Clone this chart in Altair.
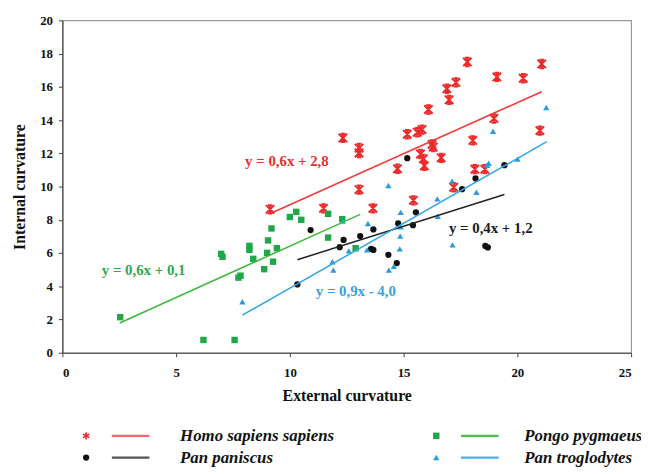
import altair as alt
import pandas as pd

# ---- data ----
homo_x = [9.13, 11.48, 12.33, 13.04, 13.04, 13.04, 13.65, 14.73, 15.16, 15.6, 15.81, 16.09, 16.25, 16.3,
          15.74, 15.87, 15.91, 16.65, 16.9, 17.0, 17.3, 17.8, 19.1, 20.26, 21.07, 18.97, 18.04, 20.99,
          18.13, 18.57, 17.2, 15.43]
homo_y = [8.63, 8.69, 12.93, 12.32, 12.02, 9.82, 8.69, 11.07, 13.15, 13.27, 13.43, 14.64, 12.54, 12.38,
          11.96, 11.67, 11.25, 11.73, 15.89, 15.22, 16.27, 17.5, 16.6, 16.52, 17.38, 14.1, 12.78, 13.37,
          11.05, 11.05, 9.96, 9.17]

pongo_x = [2.54, 6.2, 7.57, 6.98, 7.04, 7.74, 7.83, 8.22, 8.22, 8.39, 9.04, 9.19, 9.0, 8.87, 9.26, 9.43,
           10.0, 10.28, 10.5, 11.68, 11.68, 12.3, 12.89]
pongo_y = [2.14, 0.77, 0.77, 5.95, 5.77, 4.52, 4.64, 6.43, 6.19, 5.65, 6.76, 7.48, 6.01, 5.03, 5.48, 6.29,
           8.17, 8.48, 8.0, 8.36, 6.93, 8.04, 6.29]

paniscus_x = [10.33, 10.91, 12.19, 12.36, 13.09, 13.57, 13.67, 13.67, 14.33, 14.7, 14.76, 15.41, 15.54,
              15.16, 17.57, 18.16, 19.43, 18.59, 18.7]
paniscus_y = [4.11, 7.38, 6.35, 6.79, 7.02, 6.25, 6.19, 7.42, 5.89, 5.4, 7.78, 7.68, 8.45,
              11.71, 9.84, 10.49, 11.29, 6.43, 6.34]

trog_x = [7.91, 11.87, 11.91, 12.33, 12.59, 13.39, 13.43, 14.33, 14.35, 14.57, 14.87, 14.87, 14.85, 14.83,
          16.5, 16.48, 17.15, 17.13, 18.2, 18.67, 18.74, 18.93, 20.01, 21.27]
trog_y = [3.07, 5.48, 4.97, 7.92, 6.13, 6.19, 7.78, 10.06, 4.97, 5.21, 8.45, 7.58, 7.02, 6.25,
          8.21, 9.26, 6.49, 10.33, 9.66, 11.28, 11.4, 13.33, 11.65, 14.76]

species = ["Homo sapiens sapiens", "Pongo pygmaeus", "Pan paniscus", "Pan troglodytes"]
# trend line end points (as drawn)
fit_x0 = [9.29, 2.52, 10.33, 7.91]
fit_y0 = [8.47, 1.79, 5.6, 2.26]
fit_x1 = [21.07, 13.09, 19.43, 21.29]
fit_y1 = [15.71, 8.33, 9.52, 12.7]
# equation labels
eq_text = ["y = 0,6x + 2,8", "y = 0,6x + 0,1", "y = 0,4x + 1,2", "y = 0,9x - 4,0"]
eq_x = [9.87, 3.57, 18.83, 12.9]
eq_y = [11.55, 5.0, 7.48, 3.71]

x_ticks = [0, 5, 10, 15, 20, 25]
y_ticks = [0, 2, 4, 6, 8, 10, 12, 14, 16, 18, 20]

# ---- styles ----
FONT = "Liberation Serif"
mark_color = {"Homo sapiens sapiens": "#ee2b2b", "Pongo pygmaeus": "#1fa84a",
              "Pan paniscus": "#111111", "Pan troglodytes": "#2b9be0"}
line_color = {"Homo sapiens sapiens": "#f03a3a", "Pongo pygmaeus": "#3cb83c",
              "Pan paniscus": "#222222", "Pan troglodytes": "#31a6e8"}
legend_line_color = {"Homo sapiens sapiens": "#f26a6a", "Pongo pygmaeus": "#4cc04c",
                     "Pan paniscus": "#555555", "Pan troglodytes": "#4ab0ea"}
star = "M-1,-1L1,1M-1,1L1,-1M0,-1L0,1M-0.55,-1L0.55,-1M-0.55,1L0.55,1"
asterisk = "M0,-1L0,1M-0.87,-0.5L0.87,0.5M-0.87,0.5L0.87,-0.5"

xs = alt.Scale(domain=[0, 25], nice=False)
ys = alt.Scale(domain=[0, 20], nice=False)

series = {
    "Homo sapiens sapiens": (homo_x, homo_y),
    "Pongo pygmaeus": (pongo_x, pongo_y),
    "Pan paniscus": (paniscus_x, paniscus_y),
    "Pan troglodytes": (trog_x, trog_y),
}


def point_mark(name, legend=False):
    c = mark_color[name]
    if name == "Homo sapiens sapiens":
        if legend:
            return dict(shape=asterisk, filled=False, stroke=c, strokeWidth=1.6, size=55, opacity=1)
        return dict(shape=star, filled=False, stroke=c, strokeWidth=2, size=72, opacity=1)
    if name == "Pongo pygmaeus":
        return dict(shape="square", filled=True, color=c, size=42, opacity=1)
    if name == "Pan paniscus":
        return dict(shape="circle", filled=True, color=c, size=40, opacity=1)
    return dict(shape="triangle-up", filled=True, color=c, size=40, opacity=1)


x_axis = alt.Axis(values=x_ticks, title="External curvature", grid=False, tickSize=4,
                  labelPadding=10, titlePadding=8)
y_axis = alt.Axis(values=y_ticks, title="Internal curvature", grid=False, tickSize=4,
                  labelPadding=6, titlePadding=12)


def X(field="x:Q"):
    return alt.X(field, scale=xs, axis=x_axis)


def Y(field="y:Q"):
    return alt.Y(field, scale=ys, axis=y_axis)


layers = []
for name, (sx, sy) in series.items():
    df = pd.DataFrame({"x": sx, "y": sy})
    layers.append(alt.Chart(df).mark_point(**point_mark(name)).encode(x=X(), y=Y()))

for i, name in enumerate(species):
    df = pd.DataFrame({"x": [fit_x0[i], fit_x1[i]], "y": [fit_y0[i], fit_y1[i]]})
    layers.append(alt.Chart(df).mark_line(color=line_color[name], strokeWidth=1.5).encode(x=X(), y=Y()))

eq_colors = ["#e8302f", "#2fa84f", "#1a1a1a", "#36a3dc"]
for i in range(4):
    df = pd.DataFrame({"x": [eq_x[i]], "y": [eq_y[i]], "t": [eq_text[i]]})
    layers.append(alt.Chart(df).mark_text(font=FONT, fontSize=15, fontWeight="bold",
                                          color=eq_colors[i], align="center", baseline="middle").encode(
        x=X(), y=Y(), text="t:N"))

# ---- custom legend (pixel placement below the plot) ----
leg_rows = {"Homo sapiens sapiens": (0, 0), "Pongo pygmaeus": (1, 0),
            "Pan paniscus": (0, 1), "Pan troglodytes": (1, 1)}
col_sym = [24, 378]
col_line = [(50, 88), (403, 441)]
col_text = [119, 467]
row_y = [420, 442]
for name in species:
    c, r = leg_rows[name]
    one = pd.DataFrame({"label": [name]})
    layers.append(alt.Chart(one).mark_point(**point_mark(name, legend=True)).encode(
        x=alt.value(col_sym[c]), y=alt.value(row_y[r])))
    layers.append(alt.Chart(one).mark_rule(color=legend_line_color[name], strokeWidth=2.2).encode(
        x=alt.value(col_line[c][0]), x2=alt.value(col_line[c][1]), y=alt.value(row_y[r])))
    layers.append(alt.Chart(one).mark_text(font=FONT, fontSize=17, fontWeight="bold", fontStyle="italic",
                                           color="#111", align="left", baseline="middle").encode(
        x=alt.value(col_text[c]), y=alt.value(row_y[r]), text="label:N"))

chart = alt.layer(*layers).properties(
    width=575, height=336,
    autosize=alt.AutoSizeParams(type="none"),
    padding={"left": 55, "top": 10, "right": 10, "bottom": 116},
    background="white",
).configure_view(stroke="#9a9a9a", strokeWidth=1.2).configure_axis(
    labelFont=FONT, labelFontSize=13, labelFontWeight="bold", labelColor="#111",
    titleFont=FONT, titleFontSize=16, titleFontWeight="bold", titleColor="#111",
    domainColor="#444", domainWidth=1.2, tickColor="#444",
)

chart.save("out.html", embed_options={"renderer": "svg", "actions": False})
